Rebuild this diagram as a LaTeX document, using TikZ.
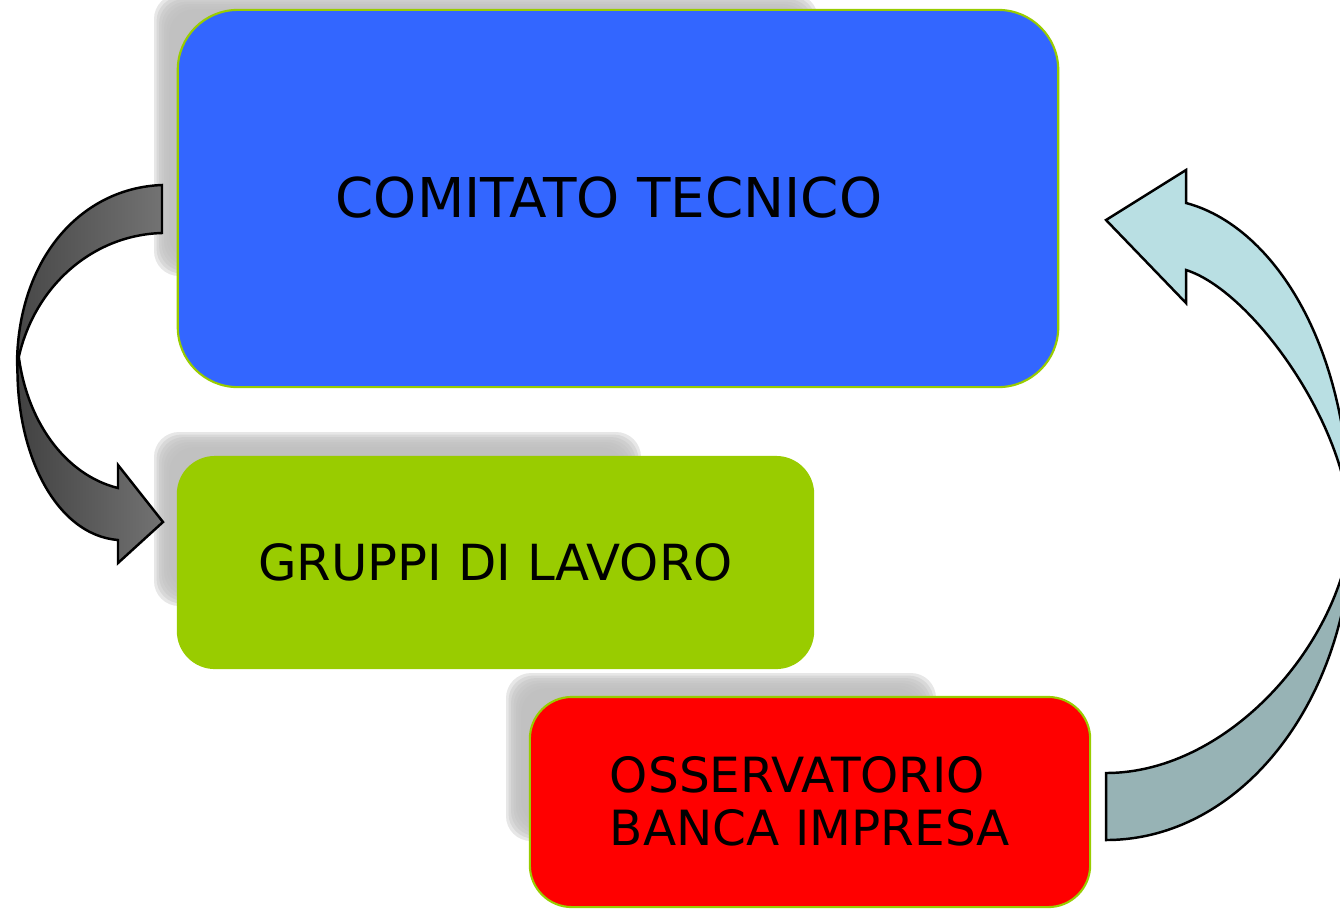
\documentclass[tikz,border=0pt]{standalone}
\usepackage{fontspec}
\setmainfont{DejaVu Sans}
\definecolor{comblue}{HTML}{3366FF}
\definecolor{lavgreen}{HTML}{99CC00}
\definecolor{obsred}{HTML}{FF0000}
\definecolor{shadegray}{HTML}{BFBFBF}
\definecolor{backteal}{HTML}{97B3B5}
\definecolor{frontblue}{HTML}{B9DFE3}
\begin{document}
\begin{tikzpicture}[x=0.01cm,y=0.01cm,
    box/.style={rounded corners=#1, inner sep=0pt, align=center, text=black},
    arrowline/.style={draw=black, line width=0.7pt, line join=miter}]
    \useasboundingbox (0,0) rectangle (1340,-908);
    % soft shadows behind the boxes
    \foreach \xa/\ya/\xb/\yb in {154/6/818/-276, 154/-432/641/-606, 506/-673/936/-841}{
        \foreach \i in {0,...,7}
            \fill[shadegray, opacity=0.38, rounded corners=0.25cm] (\xa+2.5*\i,\ya-2.5*\i) rectangle (\xb-2.5*\i,\yb+2.5*\i);
    }
    % boxes
    \node[box=0.6cm, fill=comblue, draw=lavgreen, line width=0.6pt, minimum width=8.8cm, minimum height=3.77cm] (comitato) at (618,-198.5) {};
    \node[font=\fontsize{15.6}{18}\selectfont] (comitatotxt) at (609,-198) {COMITATO TECNICO};
    \node[box=0.38cm, fill=lavgreen, minimum width=6.37cm, minimum height=2.13cm,
        font=\fontsize{14.15}{17}\selectfont] (gruppi) at (495.5,-562.5) {\raisebox{-3pt}{GRUPPI DI LAVORO}};
    \node[box=0.42cm, fill=obsred, draw=lavgreen, line width=0.6pt, minimum width=5.6cm, minimum height=2.1cm] (osservatorio) at (810,-802) {};
    \node[font=\fontsize{13.8}{16}\selectfont] (osservatoriotxt) at (810,-808)
        {\begin{tabular}{@{}l@{}}OSSERVATORIO\\[-1pt]BANCA IMPRESA\end{tabular}};
    % left arrow: comitato -> gruppi
    \shadedraw[arrowline, left color=black!75, right color=black!55]
        (18,-350) .. controls (12,-450) and (55,-535) .. (118,-540)
        -- (118,-563) -- (163,-522) -- (118,-465) -- (118,-488)
        .. controls (65,-475) and (25,-420) .. (18,-350) -- cycle;
    \shadedraw[arrowline, left color=black!72, right color=black!55]
        (162,-185) .. controls (80,-188) and (17,-260) .. (17,-366)
        .. controls (30,-290) and (90,-235) .. (162,-233) -- cycle;
    % right arrow: osservatorio -> comitato
    \filldraw[arrowline, fill=backteal]
        (1106,-840) .. controls (1242,-840) and (1352,-698) .. (1352,-522)
        .. controls (1345,-640) and (1230,-773) .. (1106,-773) -- cycle;
    \filldraw[arrowline, fill=frontblue]
        (1106,-220) -- (1186,-170) -- (1186,-203)
        .. controls (1270,-225) and (1350,-340) .. (1350,-522)
        .. controls (1345,-420) and (1250,-290) .. (1186,-270)
        -- (1186,-303) -- cycle;
\end{tikzpicture}
\end{document}
